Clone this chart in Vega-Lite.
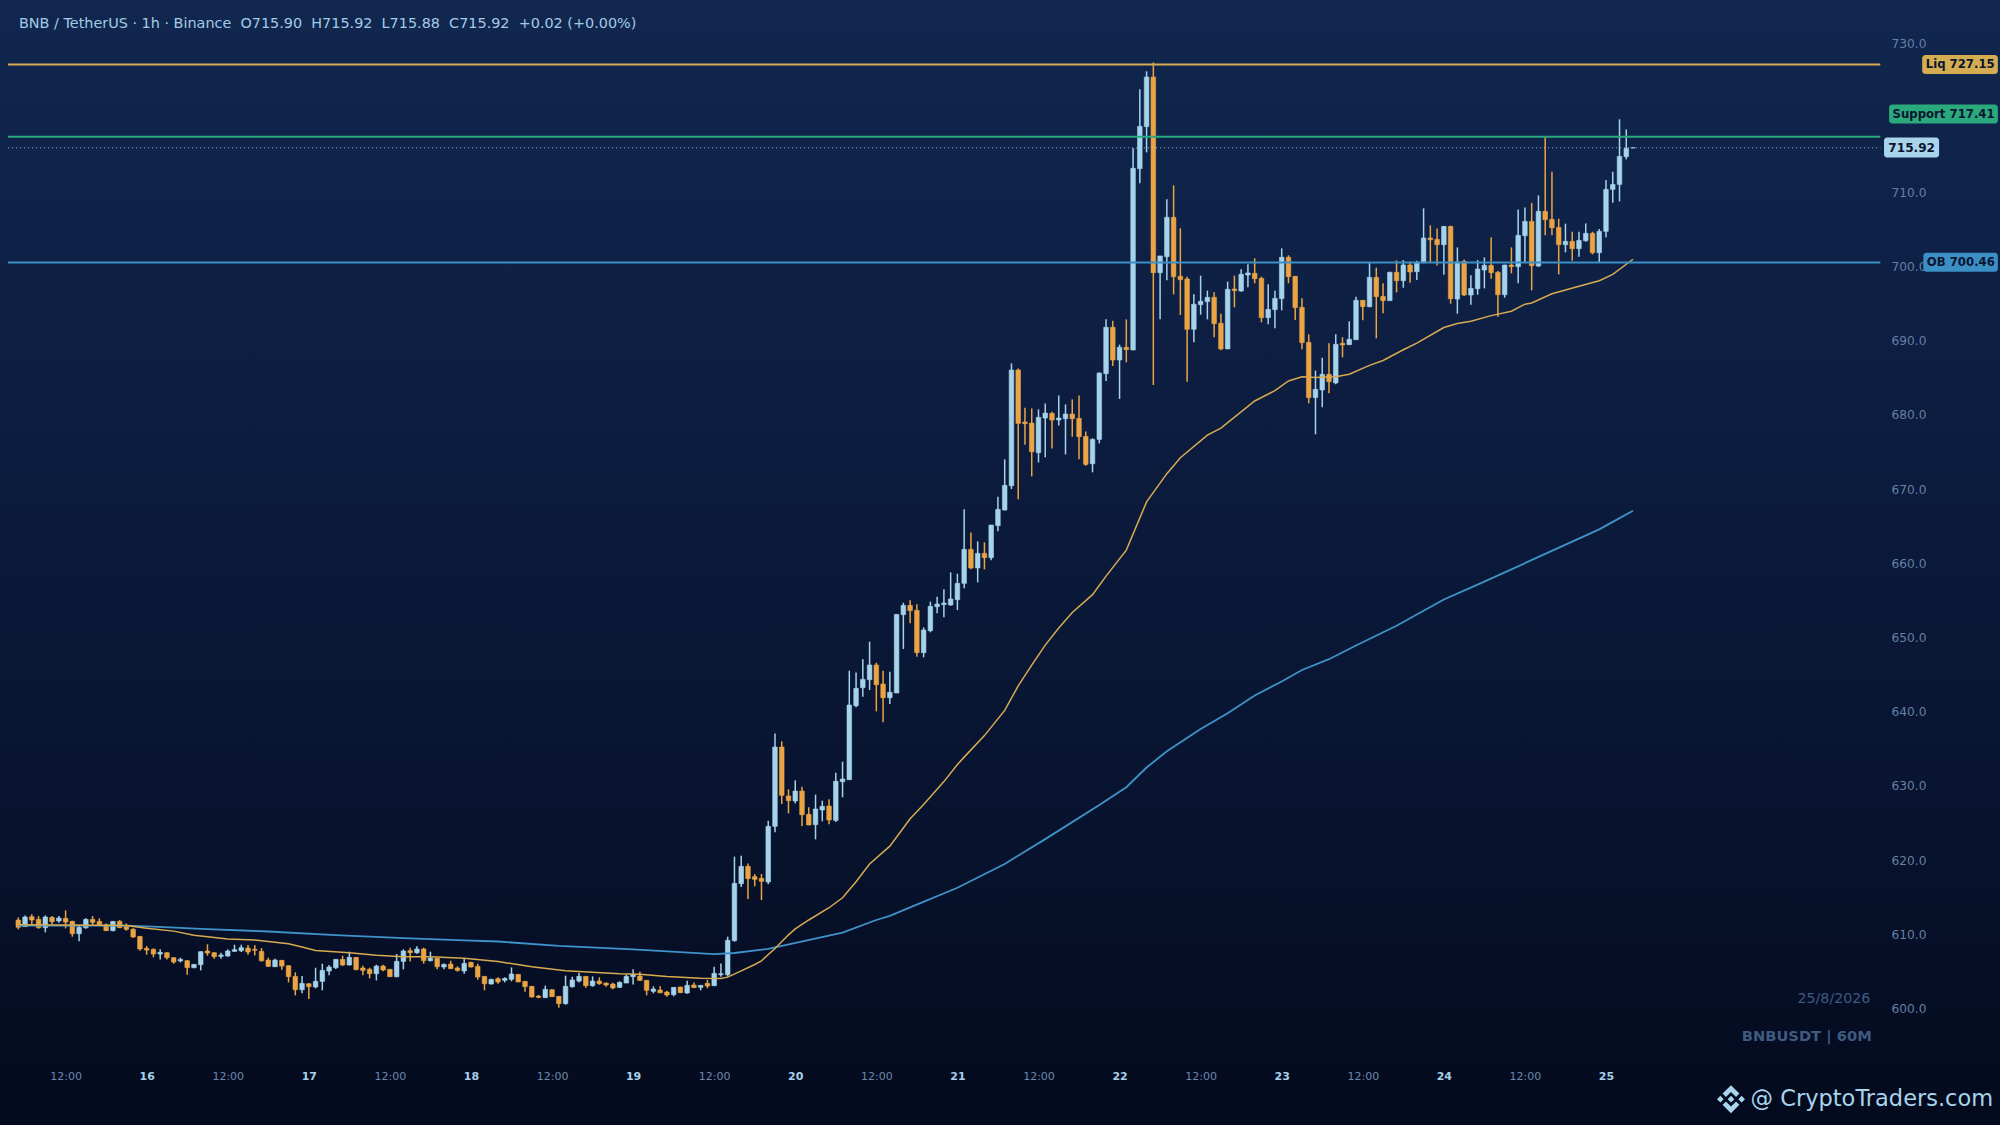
{
  "$schema": "https://vega.github.io/schema/vega-lite/v6.json",
  "width": 2000,
  "height": 1125,
  "padding": 0,
  "autosize": {"type": "none"},
  "view": {
    "stroke": null,
    "fill": {
      "gradient": "linear", "x1": 0, "y1": 0, "x2": 0, "y2": 1,
      "stops": [
        {"offset": 0, "color": "#11274f"},
        {"offset": 0.4, "color": "#0c1c3e"},
        {"offset": 0.7, "color": "#081430"},
        {"offset": 1, "color": "#040a1d"}
      ]
    }
  },
  "config": {"font": "DejaVu Sans"},
  "datasets": {
    "candles": [
      {"t":"2026-08-15T05:00","o":611.84,"h":612.2,"l":610.59,"c":610.86},
      {"t":"2026-08-15T06:00","o":610.95,"h":612.47,"l":610.95,"c":612.25},
      {"t":"2026-08-15T07:00","o":612.29,"h":612.61,"l":611.17,"c":611.84},
      {"t":"2026-08-15T08:00","o":611.93,"h":612.38,"l":610.68,"c":610.81},
      {"t":"2026-08-15T09:00","o":610.81,"h":612.47,"l":610.18,"c":612.25},
      {"t":"2026-08-15T10:00","o":612.2,"h":612.38,"l":611.3,"c":611.62},
      {"t":"2026-08-15T11:00","o":611.71,"h":612.38,"l":611.48,"c":612.11},
      {"t":"2026-08-15T12:00","o":612.07,"h":613.15,"l":610.72,"c":611.57},
      {"t":"2026-08-15T13:00","o":611.66,"h":611.75,"l":609.6,"c":610.0},
      {"t":"2026-08-15T14:00","o":610.0,"h":611.17,"l":608.97,"c":610.86},
      {"t":"2026-08-15T15:00","o":610.81,"h":612.07,"l":610.68,"c":611.93},
      {"t":"2026-08-15T16:00","o":611.93,"h":612.38,"l":611.17,"c":611.53},
      {"t":"2026-08-15T17:00","o":611.66,"h":612.07,"l":611.04,"c":611.13},
      {"t":"2026-08-15T18:00","o":611.21,"h":611.39,"l":610.36,"c":610.41},
      {"t":"2026-08-15T19:00","o":610.41,"h":611.71,"l":610.32,"c":611.66},
      {"t":"2026-08-15T20:00","o":611.66,"h":611.84,"l":610.77,"c":610.81},
      {"t":"2026-08-15T21:00","o":610.95,"h":611.39,"l":610.41,"c":610.59},
      {"t":"2026-08-15T22:00","o":610.59,"h":610.72,"l":609.46,"c":609.55},
      {"t":"2026-08-15T23:00","o":609.64,"h":609.69,"l":607.71,"c":607.94},
      {"t":"2026-08-16T00:00","o":608.03,"h":608.34,"l":607.17,"c":607.8},
      {"t":"2026-08-16T01:00","o":607.89,"h":608.03,"l":606.81,"c":607.26},
      {"t":"2026-08-16T02:00","o":607.26,"h":607.89,"l":606.54,"c":607.49},
      {"t":"2026-08-16T03:00","o":607.44,"h":607.49,"l":606.54,"c":606.77},
      {"t":"2026-08-16T04:00","o":606.77,"h":606.81,"l":605.96,"c":606.18},
      {"t":"2026-08-16T05:00","o":606.32,"h":606.77,"l":606.14,"c":606.54},
      {"t":"2026-08-16T06:00","o":606.36,"h":606.45,"l":604.48,"c":605.42},
      {"t":"2026-08-16T07:00","o":605.42,"h":605.91,"l":605.33,"c":605.87},
      {"t":"2026-08-16T08:00","o":605.82,"h":607.62,"l":605.06,"c":607.58},
      {"t":"2026-08-16T09:00","o":607.67,"h":608.57,"l":607.04,"c":607.4},
      {"t":"2026-08-16T10:00","o":607.44,"h":607.49,"l":606.63,"c":606.9},
      {"t":"2026-08-16T11:00","o":606.95,"h":607.44,"l":606.63,"c":607.13},
      {"t":"2026-08-16T12:00","o":606.99,"h":607.89,"l":606.9,"c":607.67},
      {"t":"2026-08-16T13:00","o":607.62,"h":608.52,"l":607.53,"c":607.85},
      {"t":"2026-08-16T14:00","o":607.71,"h":608.52,"l":607.53,"c":608.12},
      {"t":"2026-08-16T15:00","o":608.07,"h":608.48,"l":607.17,"c":607.53},
      {"t":"2026-08-16T16:00","o":607.89,"h":608.43,"l":607.08,"c":607.76},
      {"t":"2026-08-16T17:00","o":607.62,"h":608.07,"l":606.23,"c":606.36},
      {"t":"2026-08-16T18:00","o":606.45,"h":606.77,"l":605.55,"c":605.6},
      {"t":"2026-08-16T19:00","o":605.55,"h":606.63,"l":605.51,"c":606.45},
      {"t":"2026-08-16T20:00","o":606.41,"h":606.45,"l":605.15,"c":605.64},
      {"t":"2026-08-16T21:00","o":605.69,"h":605.73,"l":603.44,"c":604.21},
      {"t":"2026-08-16T22:00","o":604.25,"h":604.79,"l":601.69,"c":602.45},
      {"t":"2026-08-16T23:00","o":602.45,"h":604.3,"l":601.96,"c":603.31},
      {"t":"2026-08-17T00:00","o":603.26,"h":603.31,"l":601.2,"c":602.86},
      {"t":"2026-08-17T01:00","o":602.82,"h":605.42,"l":602.64,"c":603.58},
      {"t":"2026-08-17T02:00","o":603.58,"h":605.96,"l":602.37,"c":605.06},
      {"t":"2026-08-17T03:00","o":604.97,"h":605.78,"l":604.39,"c":605.51},
      {"t":"2026-08-17T04:00","o":605.42,"h":606.59,"l":605.24,"c":606.54},
      {"t":"2026-08-17T05:00","o":606.54,"h":607.04,"l":605.64,"c":605.78},
      {"t":"2026-08-17T06:00","o":605.78,"h":607.58,"l":605.73,"c":606.81},
      {"t":"2026-08-17T07:00","o":606.81,"h":606.86,"l":605.06,"c":605.15},
      {"t":"2026-08-17T08:00","o":605.38,"h":605.69,"l":604.39,"c":605.06},
      {"t":"2026-08-17T09:00","o":605.2,"h":605.42,"l":603.98,"c":604.61},
      {"t":"2026-08-17T10:00","o":604.61,"h":605.82,"l":603.71,"c":605.64},
      {"t":"2026-08-17T11:00","o":605.64,"h":605.82,"l":604.93,"c":605.11},
      {"t":"2026-08-17T12:00","o":605.2,"h":605.24,"l":604.16,"c":604.21},
      {"t":"2026-08-17T13:00","o":604.21,"h":607.26,"l":604.12,"c":606.27},
      {"t":"2026-08-17T14:00","o":606.27,"h":607.89,"l":605.2,"c":607.67},
      {"t":"2026-08-17T15:00","o":607.71,"h":608.12,"l":606.27,"c":607.44},
      {"t":"2026-08-17T16:00","o":607.44,"h":608.3,"l":607.31,"c":607.94},
      {"t":"2026-08-17T17:00","o":607.94,"h":608.12,"l":605.96,"c":606.36},
      {"t":"2026-08-17T18:00","o":606.36,"h":607.58,"l":606.27,"c":606.72},
      {"t":"2026-08-17T19:00","o":606.68,"h":606.72,"l":605.2,"c":605.55},
      {"t":"2026-08-17T20:00","o":605.51,"h":606.0,"l":605.2,"c":605.87},
      {"t":"2026-08-17T21:00","o":605.91,"h":606.36,"l":605.24,"c":605.29},
      {"t":"2026-08-17T22:00","o":605.38,"h":605.6,"l":604.88,"c":605.06},
      {"t":"2026-08-17T23:00","o":604.97,"h":606.68,"l":604.61,"c":606.0},
      {"t":"2026-08-18T00:00","o":606.14,"h":606.23,"l":605.46,"c":605.51},
      {"t":"2026-08-18T01:00","o":605.6,"h":605.96,"l":603.8,"c":604.16},
      {"t":"2026-08-18T02:00","o":604.25,"h":604.25,"l":602.37,"c":603.26},
      {"t":"2026-08-18T03:00","o":603.22,"h":603.94,"l":603.17,"c":603.85},
      {"t":"2026-08-18T04:00","o":603.94,"h":604.12,"l":603.26,"c":603.49},
      {"t":"2026-08-18T05:00","o":603.71,"h":604.12,"l":603.44,"c":603.98},
      {"t":"2026-08-18T06:00","o":603.85,"h":605.46,"l":603.58,"c":604.57},
      {"t":"2026-08-18T07:00","o":604.52,"h":604.57,"l":603.49,"c":603.49},
      {"t":"2026-08-18T08:00","o":603.58,"h":603.58,"l":602.19,"c":602.86},
      {"t":"2026-08-18T09:00","o":602.91,"h":602.95,"l":601.42,"c":601.47},
      {"t":"2026-08-18T10:00","o":601.6,"h":601.74,"l":601.29,"c":601.42},
      {"t":"2026-08-18T11:00","o":601.38,"h":603.0,"l":601.33,"c":602.5},
      {"t":"2026-08-18T12:00","o":602.45,"h":602.5,"l":601.51,"c":601.51},
      {"t":"2026-08-18T13:00","o":601.56,"h":601.6,"l":600.03,"c":600.57},
      {"t":"2026-08-18T14:00","o":600.57,"h":604.34,"l":600.43,"c":602.91},
      {"t":"2026-08-18T15:00","o":602.86,"h":604.21,"l":602.73,"c":603.76},
      {"t":"2026-08-18T16:00","o":603.62,"h":604.75,"l":603.44,"c":604.25},
      {"t":"2026-08-18T17:00","o":604.25,"h":604.3,"l":602.73,"c":602.99},
      {"t":"2026-08-18T18:00","o":602.99,"h":604.25,"l":602.86,"c":603.62},
      {"t":"2026-08-18T19:00","o":603.62,"h":604.12,"l":603.13,"c":603.26},
      {"t":"2026-08-18T20:00","o":603.35,"h":603.44,"l":602.86,"c":603.08},
      {"t":"2026-08-18T21:00","o":603.22,"h":603.4,"l":602.5,"c":602.68},
      {"t":"2026-08-18T22:00","o":602.77,"h":603.58,"l":602.68,"c":603.44},
      {"t":"2026-08-18T23:00","o":603.35,"h":604.48,"l":603.35,"c":604.25},
      {"t":"2026-08-19T00:00","o":604.21,"h":605.2,"l":603.17,"c":604.48},
      {"t":"2026-08-19T01:00","o":604.3,"h":604.88,"l":603.67,"c":603.71},
      {"t":"2026-08-19T02:00","o":603.71,"h":603.76,"l":601.69,"c":602.37},
      {"t":"2026-08-19T03:00","o":602.23,"h":602.91,"l":601.96,"c":602.55},
      {"t":"2026-08-19T04:00","o":602.41,"h":602.91,"l":601.96,"c":602.05},
      {"t":"2026-08-19T05:00","o":602.14,"h":602.32,"l":601.51,"c":601.74},
      {"t":"2026-08-19T06:00","o":601.78,"h":602.77,"l":601.56,"c":602.77},
      {"t":"2026-08-19T07:00","o":602.82,"h":602.86,"l":602.01,"c":602.05},
      {"t":"2026-08-19T08:00","o":602.01,"h":603.67,"l":601.92,"c":603.04},
      {"t":"2026-08-19T09:00","o":603.08,"h":603.44,"l":602.73,"c":602.73},
      {"t":"2026-08-19T10:00","o":602.77,"h":603.04,"l":602.37,"c":603.04},
      {"t":"2026-08-19T11:00","o":603.31,"h":603.76,"l":602.64,"c":602.95},
      {"t":"2026-08-19T12:00","o":602.99,"h":605.55,"l":602.95,"c":604.66},
      {"t":"2026-08-19T13:00","o":604.48,"h":606.0,"l":604.21,"c":604.61},
      {"t":"2026-08-19T14:00","o":604.48,"h":609.6,"l":604.21,"c":609.11},
      {"t":"2026-08-19T15:00","o":609.06,"h":620.38,"l":608.92,"c":616.79},
      {"t":"2026-08-19T16:00","o":616.74,"h":620.52,"l":616.29,"c":619.08},
      {"t":"2026-08-19T17:00","o":619.08,"h":619.48,"l":614.68,"c":617.42},
      {"t":"2026-08-19T18:00","o":617.69,"h":618.05,"l":616.39,"c":617.33},
      {"t":"2026-08-19T19:00","o":617.46,"h":618.05,"l":614.54,"c":617.06},
      {"t":"2026-08-19T20:00","o":616.97,"h":625.24,"l":616.66,"c":624.47},
      {"t":"2026-08-19T21:00","o":624.47,"h":637.0,"l":623.66,"c":635.16},
      {"t":"2026-08-19T22:00","o":635.16,"h":635.93,"l":627.48,"c":628.65},
      {"t":"2026-08-19T23:00","o":628.56,"h":629.46,"l":626.22,"c":627.93},
      {"t":"2026-08-20T00:00","o":627.89,"h":630.67,"l":627.57,"c":629.23},
      {"t":"2026-08-20T01:00","o":629.23,"h":629.82,"l":624.52,"c":626.04},
      {"t":"2026-08-20T02:00","o":626.09,"h":627.03,"l":624.61,"c":624.65},
      {"t":"2026-08-20T03:00","o":624.7,"h":628.74,"l":622.72,"c":626.81},
      {"t":"2026-08-20T04:00","o":626.67,"h":627.93,"l":625.15,"c":627.17},
      {"t":"2026-08-20T05:00","o":627.21,"h":628.11,"l":624.74,"c":625.33},
      {"t":"2026-08-20T06:00","o":625.28,"h":631.71,"l":625.06,"c":630.54},
      {"t":"2026-08-20T07:00","o":630.49,"h":633.19,"l":628.38,"c":630.85},
      {"t":"2026-08-20T08:00","o":630.76,"h":645.45,"l":630.72,"c":640.82},
      {"t":"2026-08-20T09:00","o":640.73,"h":645.22,"l":640.51,"c":643.07},
      {"t":"2026-08-20T10:00","o":643.16,"h":646.98,"l":641.95,"c":644.28},
      {"t":"2026-08-20T11:00","o":644.24,"h":649.36,"l":642.85,"c":646.22},
      {"t":"2026-08-20T12:00","o":646.22,"h":646.53,"l":639.97,"c":643.56},
      {"t":"2026-08-20T13:00","o":643.65,"h":645.45,"l":638.49,"c":641.81},
      {"t":"2026-08-20T14:00","o":641.81,"h":645.32,"l":640.96,"c":642.53},
      {"t":"2026-08-20T15:00","o":642.44,"h":653.04,"l":642.44,"c":653.04},
      {"t":"2026-08-20T16:00","o":653.0,"h":654.61,"l":648.37,"c":654.25},
      {"t":"2026-08-20T17:00","o":654.25,"h":654.93,"l":651.83,"c":653.54},
      {"t":"2026-08-20T18:00","o":653.58,"h":654.39,"l":647.34,"c":647.88},
      {"t":"2026-08-20T19:00","o":647.88,"h":651.29,"l":647.25,"c":650.93},
      {"t":"2026-08-20T20:00","o":650.84,"h":654.75,"l":650.62,"c":654.12},
      {"t":"2026-08-20T21:00","o":654.08,"h":655.42,"l":653.18,"c":654.43},
      {"t":"2026-08-20T22:00","o":654.35,"h":656.41,"l":652.64,"c":654.57},
      {"t":"2026-08-20T23:00","o":654.3,"h":658.7,"l":654.21,"c":655.11},
      {"t":"2026-08-21T00:00","o":655.02,"h":658.52,"l":653.63,"c":657.22},
      {"t":"2026-08-21T01:00","o":657.22,"h":667.19,"l":656.55,"c":661.8},
      {"t":"2026-08-21T02:00","o":661.8,"h":664.09,"l":659.11,"c":659.29},
      {"t":"2026-08-21T03:00","o":659.29,"h":662.88,"l":657.35,"c":661.26},
      {"t":"2026-08-21T04:00","o":661.26,"h":662.74,"l":659.11,"c":660.68},
      {"t":"2026-08-21T05:00","o":660.68,"h":665.08,"l":660.32,"c":665.08},
      {"t":"2026-08-21T06:00","o":665.0,"h":668.9,"l":664.23,"c":667.19},
      {"t":"2026-08-21T07:00","o":667.1,"h":673.93,"l":667.05,"c":670.42},
      {"t":"2026-08-21T08:00","o":670.38,"h":686.87,"l":669.93,"c":685.97},
      {"t":"2026-08-21T09:00","o":685.97,"h":686.19,"l":668.54,"c":678.78},
      {"t":"2026-08-21T10:00","o":678.96,"h":680.89,"l":675.9,"c":678.73},
      {"t":"2026-08-21T11:00","o":678.82,"h":680.8,"l":671.64,"c":674.96},
      {"t":"2026-08-21T12:00","o":674.83,"h":680.67,"l":673.52,"c":679.59},
      {"t":"2026-08-21T13:00","o":679.5,"h":681.47,"l":674.2,"c":680.17},
      {"t":"2026-08-21T14:00","o":680.13,"h":680.35,"l":675.41,"c":679.23},
      {"t":"2026-08-21T15:00","o":679.23,"h":682.55,"l":678.51,"c":679.5},
      {"t":"2026-08-21T16:00","o":679.41,"h":681.34,"l":674.6,"c":680.04},
      {"t":"2026-08-21T17:00","o":680.04,"h":682.01,"l":676.98,"c":679.41},
      {"t":"2026-08-21T18:00","o":679.45,"h":682.55,"l":673.93,"c":676.98},
      {"t":"2026-08-21T19:00","o":677.03,"h":677.7,"l":673.07,"c":673.25},
      {"t":"2026-08-21T20:00","o":673.34,"h":676.76,"l":672.18,"c":676.62},
      {"t":"2026-08-21T21:00","o":676.62,"h":685.65,"l":676.08,"c":685.56},
      {"t":"2026-08-21T22:00","o":685.48,"h":692.8,"l":684.49,"c":691.73},
      {"t":"2026-08-21T23:00","o":691.73,"h":692.62,"l":686.51,"c":687.32},
      {"t":"2026-08-22T00:00","o":687.32,"h":689.39,"l":682.07,"c":689.03},
      {"t":"2026-08-22T01:00","o":689.03,"h":692.8,"l":687.01,"c":688.72},
      {"t":"2026-08-22T02:00","o":688.67,"h":715.85,"l":688.63,"c":713.15},
      {"t":"2026-08-22T03:00","o":713.11,"h":723.8,"l":711.13,"c":718.81},
      {"t":"2026-08-22T04:00","o":718.77,"h":726.23,"l":715.31,"c":725.46},
      {"t":"2026-08-22T05:00","o":725.46,"h":727.4,"l":683.95,"c":699.09},
      {"t":"2026-08-22T06:00","o":699.09,"h":701.38,"l":692.8,"c":701.34},
      {"t":"2026-08-22T07:00","o":701.25,"h":708.98,"l":698.06,"c":706.55},
      {"t":"2026-08-22T08:00","o":706.55,"h":710.86,"l":696.17,"c":698.55},
      {"t":"2026-08-22T09:00","o":698.6,"h":705.07,"l":693.39,"c":698.15},
      {"t":"2026-08-22T10:00","o":698.24,"h":698.55,"l":684.4,"c":691.46},
      {"t":"2026-08-22T11:00","o":691.46,"h":696.17,"l":689.7,"c":694.83},
      {"t":"2026-08-22T12:00","o":694.78,"h":698.69,"l":693.43,"c":695.23},
      {"t":"2026-08-22T13:00","o":695.19,"h":696.67,"l":692.8,"c":695.77},
      {"t":"2026-08-22T14:00","o":695.77,"h":696.44,"l":690.38,"c":692.22},
      {"t":"2026-08-22T15:00","o":692.27,"h":693.57,"l":688.63,"c":688.81},
      {"t":"2026-08-22T16:00","o":688.81,"h":697.88,"l":688.81,"c":696.85},
      {"t":"2026-08-22T17:00","o":696.89,"h":698.69,"l":694.42,"c":696.67},
      {"t":"2026-08-22T18:00","o":696.62,"h":699.54,"l":696.53,"c":698.87},
      {"t":"2026-08-22T19:00","o":698.78,"h":700.22,"l":697.12,"c":699.05},
      {"t":"2026-08-22T20:00","o":699.0,"h":701.02,"l":697.66,"c":698.28},
      {"t":"2026-08-22T21:00","o":698.33,"h":698.55,"l":692.4,"c":693.03},
      {"t":"2026-08-22T22:00","o":693.03,"h":697.52,"l":692.13,"c":694.15},
      {"t":"2026-08-22T23:00","o":694.11,"h":696.67,"l":691.59,"c":695.63},
      {"t":"2026-08-23T00:00","o":695.59,"h":702.37,"l":694.02,"c":701.16},
      {"t":"2026-08-23T01:00","o":701.16,"h":701.43,"l":697.66,"c":698.55},
      {"t":"2026-08-23T02:00","o":698.6,"h":698.64,"l":692.71,"c":694.38},
      {"t":"2026-08-23T03:00","o":694.42,"h":695.63,"l":688.76,"c":689.66},
      {"t":"2026-08-23T04:00","o":689.7,"h":690.78,"l":681.48,"c":682.25},
      {"t":"2026-08-23T05:00","o":682.25,"h":685.89,"l":677.31,"c":683.37},
      {"t":"2026-08-23T06:00","o":683.28,"h":687.64,"l":680.95,"c":685.39},
      {"t":"2026-08-23T07:00","o":685.39,"h":689.57,"l":682.83,"c":684.4},
      {"t":"2026-08-23T08:00","o":684.23,"h":690.78,"l":684.05,"c":689.44},
      {"t":"2026-08-23T09:00","o":689.57,"h":690.38,"l":687.68,"c":689.35},
      {"t":"2026-08-23T10:00","o":689.39,"h":692.54,"l":689.35,"c":690.11},
      {"t":"2026-08-23T11:00","o":690.06,"h":695.86,"l":690.06,"c":695.37},
      {"t":"2026-08-23T12:00","o":695.37,"h":695.41,"l":692.67,"c":694.51},
      {"t":"2026-08-23T13:00","o":694.51,"h":700.49,"l":694.42,"c":698.46},
      {"t":"2026-08-23T14:00","o":698.46,"h":699.77,"l":690.24,"c":695.86},
      {"t":"2026-08-23T15:00","o":695.9,"h":697.66,"l":693.61,"c":695.32},
      {"t":"2026-08-23T16:00","o":695.32,"h":699.23,"l":695.32,"c":699.14},
      {"t":"2026-08-23T17:00","o":699.14,"h":700.76,"l":696.44,"c":698.01},
      {"t":"2026-08-23T18:00","o":698.01,"h":700.79,"l":697.06,"c":700.12},
      {"t":"2026-08-23T19:00","o":700.12,"h":700.57,"l":697.74,"c":699.18},
      {"t":"2026-08-23T20:00","o":699.22,"h":700.7,"l":698.1,"c":700.48},
      {"t":"2026-08-23T21:00","o":700.43,"h":707.76,"l":700.43,"c":703.76},
      {"t":"2026-08-23T22:00","o":703.76,"h":705.47,"l":700.43,"c":703.53},
      {"t":"2026-08-23T23:00","o":703.58,"h":705.06,"l":700.07,"c":702.86},
      {"t":"2026-08-24T00:00","o":702.86,"h":705.37,"l":698.82,"c":705.33},
      {"t":"2026-08-24T01:00","o":705.33,"h":705.42,"l":694.91,"c":695.58},
      {"t":"2026-08-24T02:00","o":695.54,"h":702.5,"l":693.56,"c":700.52},
      {"t":"2026-08-24T03:00","o":700.61,"h":700.88,"l":695.94,"c":696.08},
      {"t":"2026-08-24T04:00","o":696.08,"h":698.73,"l":694.77,"c":696.98},
      {"t":"2026-08-24T05:00","o":696.93,"h":700.79,"l":696.12,"c":699.58},
      {"t":"2026-08-24T06:00","o":699.45,"h":701.15,"l":696.98,"c":700.07},
      {"t":"2026-08-24T07:00","o":700.07,"h":703.85,"l":698.28,"c":699.09},
      {"t":"2026-08-24T08:00","o":699.13,"h":699.31,"l":693.16,"c":696.12},
      {"t":"2026-08-24T09:00","o":696.12,"h":700.16,"l":695.72,"c":700.12},
      {"t":"2026-08-24T10:00","o":700.12,"h":702.5,"l":699.0,"c":699.9},
      {"t":"2026-08-24T11:00","o":699.9,"h":707.62,"l":697.65,"c":704.12},
      {"t":"2026-08-24T12:00","o":704.07,"h":707.89,"l":700.43,"c":706.0},
      {"t":"2026-08-24T13:00","o":706.0,"h":708.5,"l":696.7,"c":700.03},
      {"t":"2026-08-24T14:00","o":699.98,"h":709.51,"l":699.89,"c":707.35},
      {"t":"2026-08-24T15:00","o":707.35,"h":717.32,"l":704.12,"c":706.23},
      {"t":"2026-08-24T16:00","o":706.27,"h":712.7,"l":704.12,"c":705.15},
      {"t":"2026-08-24T17:00","o":705.19,"h":706.36,"l":698.86,"c":702.86},
      {"t":"2026-08-24T18:00","o":702.86,"h":705.69,"l":701.83,"c":703.31},
      {"t":"2026-08-24T19:00","o":703.31,"h":704.61,"l":700.7,"c":702.32},
      {"t":"2026-08-24T20:00","o":702.32,"h":704.61,"l":701.24,"c":703.44},
      {"t":"2026-08-24T21:00","o":703.4,"h":705.73,"l":703.26,"c":704.39},
      {"t":"2026-08-24T22:00","o":704.39,"h":704.61,"l":701.56,"c":701.78},
      {"t":"2026-08-24T23:00","o":701.78,"h":704.97,"l":700.48,"c":704.66},
      {"t":"2026-08-25T00:00","o":704.66,"h":711.57,"l":703.85,"c":710.32},
      {"t":"2026-08-25T01:00","o":710.32,"h":712.7,"l":708.52,"c":710.99},
      {"t":"2026-08-25T02:00","o":710.99,"h":719.76,"l":708.7,"c":714.76},
      {"t":"2026-08-25T03:00","o":714.72,"h":718.4,"l":714.36,"c":715.84},
      {"t":"2026-08-25T04:00","o":715.9,"h":715.92,"l":715.88,"c":715.92}
    ],
    "ma50": [
      {"t":"2026-08-15T05:00","v":611.2},{"t":"2026-08-15T21:00","v":611.1},{"t":"2026-08-16T00:00","v":610.75},
      {"t":"2026-08-16T04:00","v":610.35},{"t":"2026-08-16T07:00","v":609.8},{"t":"2026-08-16T12:00","v":609.3},
      {"t":"2026-08-16T16:00","v":609.15},{"t":"2026-08-16T21:00","v":608.65},{"t":"2026-08-16T23:00","v":608.2},
      {"t":"2026-08-17T01:00","v":607.75},{"t":"2026-08-17T06:00","v":607.45},{"t":"2026-08-17T10:00","v":607.1},
      {"t":"2026-08-17T14:00","v":606.9},{"t":"2026-08-17T18:00","v":606.9},{"t":"2026-08-17T23:00","v":606.7},
      {"t":"2026-08-18T04:00","v":606.25},{"t":"2026-08-18T09:00","v":605.55},{"t":"2026-08-18T14:00","v":605.0},
      {"t":"2026-08-18T18:00","v":604.8},{"t":"2026-08-18T22:00","v":604.6},{"t":"2026-08-19T01:00","v":604.55},
      {"t":"2026-08-19T05:00","v":604.25},{"t":"2026-08-19T10:00","v":604.0},{"t":"2026-08-19T13:00","v":603.95},
      {"t":"2026-08-19T14:00","v":604.15},{"t":"2026-08-19T16:00","v":605.0},{"t":"2026-08-19T18:00","v":605.85},
      {"t":"2026-08-19T19:00","v":606.35},{"t":"2026-08-19T21:00","v":608.0},{"t":"2026-08-19T23:00","v":609.85},
      {"t":"2026-08-20T00:00","v":610.65},{"t":"2026-08-20T02:00","v":611.85},{"t":"2026-08-20T05:00","v":613.5},
      {"t":"2026-08-20T07:00","v":614.85},{"t":"2026-08-20T09:00","v":617.0},{"t":"2026-08-20T11:00","v":619.4},
      {"t":"2026-08-20T14:00","v":621.8},{"t":"2026-08-20T17:00","v":625.5},{"t":"2026-08-20T19:00","v":627.4},
      {"t":"2026-08-20T22:00","v":630.5},{"t":"2026-08-21T00:00","v":632.8},{"t":"2026-08-21T01:00","v":633.8},
      {"t":"2026-08-21T04:00","v":636.7},{"t":"2026-08-21T07:00","v":640.1},{"t":"2026-08-21T09:00","v":643.4},
      {"t":"2026-08-21T11:00","v":646.2},{"t":"2026-08-21T13:00","v":648.9},{"t":"2026-08-21T15:00","v":651.2},
      {"t":"2026-08-21T17:00","v":653.3},{"t":"2026-08-21T20:00","v":655.7},{"t":"2026-08-21T22:00","v":658.2},
      {"t":"2026-08-22T01:00","v":661.7},{"t":"2026-08-22T04:00","v":668.2},{"t":"2026-08-22T07:00","v":672.0},
      {"t":"2026-08-22T09:00","v":674.15},{"t":"2026-08-22T13:00","v":677.2},{"t":"2026-08-22T15:00","v":678.15},
      {"t":"2026-08-22T20:00","v":681.8},{"t":"2026-08-22T23:00","v":683.2},{"t":"2026-08-23T01:00","v":684.5},
      {"t":"2026-08-23T03:00","v":685.05},{"t":"2026-08-23T05:00","v":684.95},{"t":"2026-08-23T08:00","v":685.05},
      {"t":"2026-08-23T10:00","v":685.4},{"t":"2026-08-23T13:00","v":686.6},{"t":"2026-08-23T15:00","v":687.25},
      {"t":"2026-08-23T18:00","v":688.7},{"t":"2026-08-23T20:00","v":689.6},{"t":"2026-08-24T00:00","v":691.7},
      {"t":"2026-08-24T02:00","v":692.25},{"t":"2026-08-24T04:00","v":692.55},{"t":"2026-08-24T07:00","v":693.3},
      {"t":"2026-08-24T10:00","v":693.9},{"t":"2026-08-24T12:00","v":694.85},{"t":"2026-08-24T13:00","v":695.0},
      {"t":"2026-08-24T16:00","v":696.25},{"t":"2026-08-24T20:00","v":697.25},{"t":"2026-08-24T23:00","v":698.0},
      {"t":"2026-08-25T01:00","v":698.85},{"t":"2026-08-25T04:00","v":700.9}
    ],
    "ma200": [
      {"t":"2026-08-15T05:00","v":611.1},{"t":"2026-08-15T21:00","v":611.1},{"t":"2026-08-16T01:00","v":610.95},
      {"t":"2026-08-16T08:00","v":610.65},{"t":"2026-08-16T18:00","v":610.3},{"t":"2026-08-17T04:00","v":609.8},
      {"t":"2026-08-17T14:00","v":609.4},{"t":"2026-08-17T23:00","v":609.1},{"t":"2026-08-18T04:00","v":608.95},
      {"t":"2026-08-18T13:00","v":608.35},{"t":"2026-08-19T00:00","v":607.9},{"t":"2026-08-19T12:00","v":607.25},
      {"t":"2026-08-19T15:00","v":607.4},{"t":"2026-08-19T20:00","v":607.95},{"t":"2026-08-20T07:00","v":610.15},
      {"t":"2026-08-20T12:00","v":611.85},{"t":"2026-08-20T14:00","v":612.4},{"t":"2026-08-20T17:00","v":613.55},
      {"t":"2026-08-21T00:00","v":616.2},{"t":"2026-08-21T07:00","v":619.4},{"t":"2026-08-21T13:00","v":622.75},
      {"t":"2026-08-21T21:00","v":627.35},{"t":"2026-08-22T01:00","v":629.75},{"t":"2026-08-22T04:00","v":632.4},
      {"t":"2026-08-22T07:00","v":634.6},{"t":"2026-08-22T12:00","v":637.6},{"t":"2026-08-22T16:00","v":639.7},
      {"t":"2026-08-22T20:00","v":642.1},{"t":"2026-08-23T00:00","v":644.0},{"t":"2026-08-23T03:00","v":645.55},
      {"t":"2026-08-23T07:00","v":647.0},{"t":"2026-08-23T11:00","v":648.85},{"t":"2026-08-23T17:00","v":651.5},
      {"t":"2026-08-24T00:00","v":655.05},{"t":"2026-08-24T05:00","v":657.05},{"t":"2026-08-24T10:00","v":659.1},
      {"t":"2026-08-24T15:00","v":661.2},{"t":"2026-08-24T23:00","v":664.5},{"t":"2026-08-25T01:00","v":665.5},
      {"t":"2026-08-25T04:00","v":667.0}
    ],
    "levels": [
      {"name":"Liq","price":727.15,"t0":"2026-08-15T03:28","t1":"2026-08-26T16:36"},
      {"name":"Support","price":717.41,"t0":"2026-08-15T03:28","t1":"2026-08-26T16:36"},
      {"name":"OB","price":700.46,"t0":"2026-08-15T03:28","t1":"2026-08-26T16:36"}
    ],
    "badges": [
      {"name":"Liq","label":"Liq 727.15","pos":727.15,"low":725.87,"high":728.43,"t0":"2026-08-26T22:48","t1":"2026-08-27T10:00"},
      {"name":"Support","label":"Support 717.41","pos":720.48,"low":719.2,"high":721.76,"t0":"2026-08-26T17:54","t1":"2026-08-27T10:00"},
      {"name":"OB","label":"OB 700.46","pos":700.48,"low":699.2,"high":701.76,"t0":"2026-08-26T22:58","t1":"2026-08-27T10:00"},
      {"name":"Last","label":"715.92","pos":715.96,"low":714.62,"high":717.3,"t0":"2026-08-26T17:09","t1":"2026-08-27T01:18"}
    ]
  },
  "encoding": {
    "x": {
      "field": "t",
      "type": "temporal",
      "scale": {"domain": ["2026-08-15T02:17:30", "2026-08-27T10:19:00"], "nice": false, "padding": 0},
      "axis": {
        "orient": "bottom", "offset": -49, "title": null, "domain": false, "ticks": false, "grid": false,
        "labelPadding": 0, "labelBaseline": "middle", "labelFontSize": 11, "labelOverlap": false, "labelFlush": false,
        "labelBound": false,
        "values": [
          "2026-08-15T12:00", "2026-08-16T00:00", "2026-08-16T12:00", "2026-08-17T00:00", "2026-08-17T12:00",
          "2026-08-18T00:00", "2026-08-18T12:00", "2026-08-19T00:00", "2026-08-19T12:00", "2026-08-20T00:00",
          "2026-08-20T12:00", "2026-08-21T00:00", "2026-08-21T12:00", "2026-08-22T00:00", "2026-08-22T12:00",
          "2026-08-23T00:00", "2026-08-23T12:00", "2026-08-24T00:00", "2026-08-24T12:00", "2026-08-25T00:00"
        ],
        "labelExpr": "hours(datum.value) == 12 ? '12:00' : timeFormat(datum.value, '%-d')",
        "labelFontWeight": {"condition": {"test": "hours(datum.value) == 12", "value": "normal"}, "value": "bold"},
        "labelColor": {"condition": {"test": "hours(datum.value) == 12", "value": "#6b88ab"}, "value": "#a8d0ea"}
      }
    }
  },
  "layer": [
    {
      "data": {"name": "candles"},
      "mark": {"type": "rule", "strokeWidth": 1.5},
      "encoding": {
        "y": {
          "field": "h",
          "type": "quantitative",
          "scale": {"domain": [584.22, 735.84], "nice": false, "zero": false, "padding": 0},
          "axis": {
            "orient": "right", "offset": -109, "title": null, "domain": false, "ticks": false, "grid": false,
            "labelPadding": 0, "labelFontSize": 12.2, "labelColor": "#6480a3", "labelAlign": "left", "format": ".1f",
            "labelOverlap": false, "labelFlush": false, "labelBound": false, "labelOffset": 0.6,
            "values": [600, 610, 620, 630, 640, 650, 660, 670, 680, 690, 700, 710, 730]
          }
        },
        "y2": {"field": "l"},
        "color": {"condition": {"test": "datum.c >= datum.o", "value": "#a5d3ec"}, "value": "#eba444"}
      }
    },
    {
      "data": {"name": "candles"},
      "mark": {"type": "bar", "size": 4.6, "strokeWidth": 0.6},
      "encoding": {
        "y": {"field": "o", "type": "quantitative", "axis": {"orient": "right", "title": null}},
        "y2": {"field": "c"},
        "color": {"condition": {"test": "datum.c >= datum.o", "value": "#a5d3ec"}, "value": "#eba444"},
        "stroke": {"condition": {"test": "datum.c >= datum.o", "value": "#a5d3ec"}, "value": "#eba444"}
      }
    },
    {
      "data": {"name": "ma200"},
      "mark": {"type": "line", "color": "#3f93c9", "strokeWidth": 1.8},
      "encoding": {"y": {"field": "v", "type": "quantitative", "axis": {"orient": "right", "title": null}}}
    },
    {
      "data": {"name": "ma50"},
      "mark": {"type": "line", "color": "#d9ab50", "strokeWidth": 1.5},
      "encoding": {"y": {"field": "v", "type": "quantitative", "axis": {"orient": "right", "title": null}}}
    },
    {
      "data": {"name": "levels"},
      "mark": {"type": "rule", "strokeWidth": 2},
      "encoding": {
        "x": {"field": "t0", "type": "temporal", "axis": {"title": null}},
        "x2": {"field": "t1"},
        "y": {"field": "price", "type": "quantitative", "axis": {"orient": "right", "title": null}},
        "color": {
          "field": "name",
          "type": "nominal",
          "legend": null,
          "scale": {"domain": ["Liq", "Support", "OB", "Last"], "range": ["#d4ad52", "#2aa97d", "#3a8fc5", "#a8d4ec"]}
        }
      }
    },
    {
      "data": {"values": [{"price": 715.92, "t0": "2026-08-15T03:28", "t1": "2026-08-26T16:36"}]},
      "mark": {"type": "rule", "strokeWidth": 1, "color": "#a8d4ec", "strokeDash": [1.2, 2.8], "opacity": 0.8},
      "encoding": {
        "x": {"field": "t0", "type": "temporal", "axis": {"title": null}},
        "x2": {"field": "t1"},
        "y": {"field": "price", "type": "quantitative", "axis": {"orient": "right", "title": null}}
      }
    },
    {
      "data": {"name": "badges"},
      "mark": {"type": "rect", "cornerRadius": 3},
      "encoding": {
        "x": {"field": "t0", "type": "temporal", "axis": {"title": null}},
        "x2": {"field": "t1"},
        "y": {"field": "low", "type": "quantitative", "axis": {"orient": "right", "title": null}},
        "y2": {"field": "high"},
        "color": {"field": "name", "type": "nominal", "legend": null}
      }
    },
    {
      "data": {"name": "badges"},
      "transform": [{"filter": "datum.name != 'Last'"}],
      "mark": {"type": "text", "align": "left", "baseline": "middle", "dx": 3.5, "fontSize": 11.7, "fontWeight": "bold", "color": "#0b1530"},
      "encoding": {
        "x": {"field": "t0", "type": "temporal", "axis": {"title": null}},
        "y": {"field": "pos", "type": "quantitative", "axis": {"orient": "right", "title": null}},
        "text": {"field": "label"}
      }
    },
    {
      "data": {"name": "badges"},
      "transform": [{"filter": "datum.name == 'Last'"}],
      "mark": {"type": "text", "align": "left", "baseline": "middle", "dx": 4.3, "fontSize": 12.1, "fontWeight": "bold", "color": "#0b1530"},
      "encoding": {
        "x": {"field": "t0", "type": "temporal", "axis": {"title": null}},
        "y": {"field": "pos", "type": "quantitative", "axis": {"orient": "right", "title": null}},
        "text": {"field": "label"}
      }
    },
    {
      "data": {"values": [{"label": "BNB / TetherUS · 1h · Binance\u00a0\u00a0O715.90\u00a0\u00a0H715.92\u00a0\u00a0L715.88\u00a0\u00a0C715.92\u00a0\u00a0+0.02 (+0.00%)", "t": "2026-08-15T05:06", "p": 732.6}]},
      "mark": {"type": "text", "align": "left", "baseline": "middle", "fontSize": 14.4, "color": "#a3cbe6"},
      "encoding": {"y": {"field": "p", "type": "quantitative", "axis": {"orient": "right", "title": null}}, "text": {"field": "label"}}
    },
    {
      "data": {"values": [{"label": "25/8/2026", "t": "2026-08-26T15:07", "p": 601.2}]},
      "mark": {"type": "text", "align": "right", "baseline": "middle", "fontSize": 14.2, "color": "#3f5a80"},
      "encoding": {"y": {"field": "p", "type": "quantitative", "axis": {"orient": "right", "title": null}}, "text": {"field": "label"}}
    },
    {
      "data": {"values": [{"label": "BNBUSDT | 60M", "t": "2026-08-26T15:20", "p": 596.07}]},
      "mark": {"type": "text", "align": "right", "baseline": "middle", "fontSize": 14.7, "fontWeight": "bold", "color": "#3f5a80"},
      "encoding": {"y": {"field": "p", "type": "quantitative", "axis": {"orient": "right", "title": null}}, "text": {"field": "label"}}
    },
    {
      "data": {"values": [{"label": "@ CryptoTraders.com", "t": "2026-08-25T21:24", "p": 587.7}]},
      "mark": {"type": "text", "align": "left", "baseline": "middle", "fontSize": 22.5, "color": "#a8d4ec"},
      "encoding": {"y": {"field": "p", "type": "quantitative", "axis": {"orient": "right", "title": null}}, "text": {"field": "label"}}
    },
    {
      "data": {"values": [{"t": "2026-08-25T18:30", "p": 587.7}]},
      "mark": {
        "type": "point",
        "filled": true,
        "opacity": 1,
        "size": 784,
        "color": "#a8d4ec",
        "shape": "M0,-0.24L0.24,0L0,0.24L-0.24,0ZM-1,0L-0.76,-0.24L-0.52,0L-0.76,0.24ZM1,0L0.76,-0.24L0.52,0L0.76,0.24ZM0,-1L0.6,-0.4L0.36,-0.16L0,-0.52L-0.36,-0.16L-0.6,-0.4ZM0,1L0.6,0.4L0.36,0.16L0,0.52L-0.36,0.16L-0.6,0.4Z"
      },
      "encoding": {"y": {"field": "p", "type": "quantitative", "axis": {"orient": "right", "title": null}}}
    }
  ]
}
